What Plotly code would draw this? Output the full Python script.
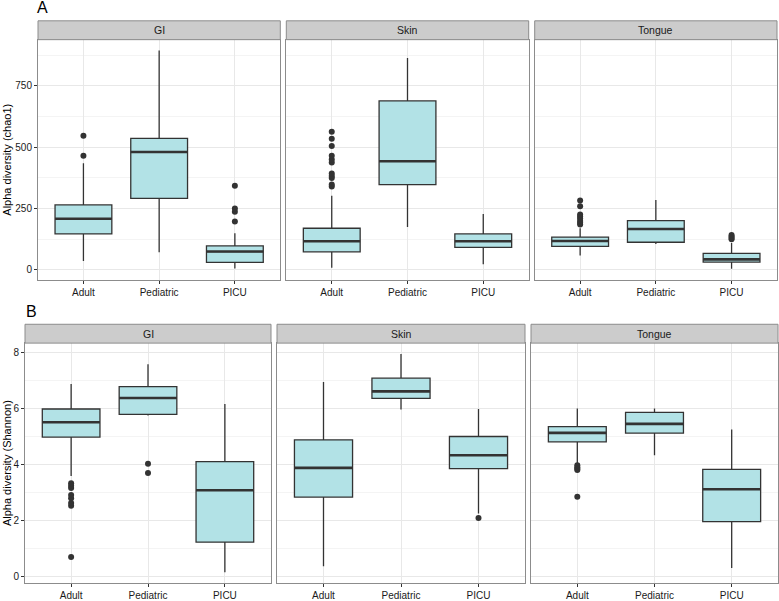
import plotly.graph_objects as go

W, H = 779, 601

facets = ["GI", "Skin", "Tongue"]
groups = ["Adult", "Pediatric", "PICU"]
y_titles = ["Alpha diversity (chao1)", "Alpha diversity (Shannon)"]
panel_tags = ["A", "B"]

# chao1 stats: [facet][group]
chao1_lower = [[37, 72, 6], [9, 175, 23], [59, 106, 5]]
chao1_q1 = [[147, 292, 31], [74, 348, 92], [96, 113, 32]]
chao1_median = [[209, 481, 75], [117, 443, 117], [118, 167, 43]]
chao1_q3 = [[265, 536, 98], [170, 689, 147], [134, 201, 68]]
chao1_upper = [[435, 894, 150], [302, 864, 228], [170, 285, 110]]
chao1_outliers = [
    [[465, 547], [], [198, 237, 250, 343]],
    [[340, 348, 375, 383, 393, 438, 450, 465, 505, 535, 563], [], []],
    [[185, 192, 200, 210, 218, 226, 260, 283], [], [125, 130, 136, 142]],
]
chao1_ticks = [0, 250, 500, 750]

# Shannon stats: [facet][group]
shannon_lower = [[3.59, 5.75, 0.16], [0.37, 5.96, 2.25], [4.00, 4.33, 0.31]]
shannon_q1 = [[4.98, 5.79, 1.23], [2.84, 6.36, 3.85], [4.81, 5.12, 1.96]]
shannon_median = [[5.51, 6.37, 3.08], [3.88, 6.61, 4.33], [5.13, 5.45, 3.12]]
shannon_q3 = [[5.98, 6.78, 4.10], [4.88, 7.08, 5.00], [5.35, 5.86, 3.83]]
shannon_upper = [[6.87, 7.58, 6.16], [6.94, 7.94, 5.98], [6.00, 6.00, 5.25]]
shannon_outliers = [
    [[0.70, 2.53, 2.63, 2.80, 2.91, 3.16, 3.24, 3.33], [3.70, 4.03], []],
    [[], [], [2.09]],
    [[2.85, 3.80, 3.85, 3.90, 3.97], [], []],
]
shannon_ticks = [0, 2, 4, 6, 8]

rows = [
    dict(lower=chao1_lower, q1=chao1_q1, med=chao1_median, q3=chao1_q3,
         upper=chao1_upper, out=chao1_outliers, ticks=chao1_ticks,
         minor=125, rng=[-39.5, 938.5]),
    dict(lower=shannon_lower, q1=shannon_q1, med=shannon_median, q3=shannon_q3,
         upper=shannon_upper, out=shannon_outliers, ticks=shannon_ticks,
         minor=1, rng=[-0.23, 8.33]),
]

# layout geometry (pixels)
col_px = [
    [(38, 280.3), (286.3, 528.7), (534.7, 777)],
    [(25, 271), (277, 525), (531, 778)],
]
row_px = [(40, 282), (346, 588)]
tag_px = [(35, 8), (24, 314)]
strip_h = 19
BOX_W = 0.75

FILL = "#b2e2e6"
DARK = "#333333"
BORDER = "#8c8c8c"
FONT = "Liberation Sans, Arial, sans-serif"

fig = go.Figure()
layout = dict(
    width=W, height=H, margin=dict(l=0, r=0, t=0, b=0),
    paper_bgcolor="white", plot_bgcolor="white", showlegend=False,
    font=dict(family=FONT, color="#1a1a1a"),
)
shapes = []
annotations = []

def px_x(x):
    return x / W

def px_y(y):
    return 1 - y / H

for r, rd in enumerate(rows):
    for c, fac in enumerate(facets):
        k = r * 3 + c + 1
        xn = "x" if k == 1 else f"x{k}"
        yn = "y" if k == 1 else f"y{k}"
        xa = "xaxis" if k == 1 else f"xaxis{k}"
        ya = "yaxis" if k == 1 else f"yaxis{k}"
        x0, x1 = col_px[r][c]
        y0, y1 = row_px[r]
        for g in range(3):
            pos = g + 1
            fig.add_trace(go.Box(
                x=[pos], q1=[rd["q1"][c][g]], median=[rd["med"][c][g]],
                q3=[rd["q3"][c][g]], lowerfence=[rd["lower"][c][g]],
                upperfence=[rd["upper"][c][g]], width=BOX_W,
                fillcolor=FILL, line=dict(color=DARK, width=1.3),
                whiskerwidth=0, boxpoints=False, xaxis=xn, yaxis=yn,
                hoverinfo="skip",
            ))
            fig.add_trace(go.Scatter(
                x=[pos - BOX_W / 2, pos + BOX_W / 2],
                y=[rd["med"][c][g]] * 2, mode="lines",
                line=dict(color=DARK, width=2.6), xaxis=xn, yaxis=yn,
                hoverinfo="skip",
            ))
            outs = rd["out"][c][g]
            if outs:
                fig.add_trace(go.Scatter(
                    x=[pos] * len(outs), y=outs, mode="markers",
                    marker=dict(color=DARK, size=6), xaxis=xn, yaxis=yn,
                    hoverinfo="skip",
                ))
        layout[xa] = dict(
            domain=[px_x(x0), px_x(x1)], anchor=yn, range=[0.4, 3.6],
            tickmode="array", tickvals=[1, 2, 3], ticktext=groups,
            showgrid=True, gridcolor="#e8e8e8", gridwidth=1, zeroline=False,
            showline=True, mirror=True, linecolor=BORDER, linewidth=1,
            ticks="outside", ticklen=3, tickcolor=DARK, tickwidth=1,
            tickfont=dict(family=FONT, size=10, color="#1a1a1a"),
            fixedrange=True,
        )
        layout[ya] = dict(
            domain=[px_y(y1), px_y(y0)], anchor=xn, range=rd["rng"],
            tickmode="array", tickvals=rd["ticks"],
            showticklabels=(c == 0), ticks="outside" if c == 0 else "",
            ticklen=3, tickcolor=DARK, tickwidth=1,
            tickfont=dict(family=FONT, size=10, color="#1a1a1a"),
            showgrid=True, gridcolor="#e8e8e8", gridwidth=1, zeroline=False,
            minor=dict(tick0=0, dtick=rd["minor"], showgrid=True,
                       gridcolor="#f4f4f4", gridwidth=1),
            showline=True, mirror=True, linecolor=BORDER, linewidth=1,
            fixedrange=True,
        )
        # strip
        shapes.append(dict(
            type="rect", xref="paper", yref="paper",
            x0=px_x(x0), x1=px_x(x1), y0=px_y(y0), y1=px_y(y0 - strip_h),
            fillcolor="#cccccc", line=dict(color=BORDER, width=1),
            layer="above",
        ))
        annotations.append(dict(
            text=fac, xref="paper", yref="paper",
            x=px_x((x0 + x1) / 2), y=px_y(y0 - strip_h / 2),
            xanchor="center", yanchor="middle", showarrow=False,
            font=dict(family=FONT, size=10.5, color="#1a1a1a"),
        ))
    # y title
    y0, y1 = row_px[r]
    annotations.append(dict(
        text=y_titles[r], xref="paper", yref="paper",
        x=px_x(7), y=px_y((y0 + y1) / 2), textangle=-90,
        xanchor="center", yanchor="middle", showarrow=False,
        font=dict(family=FONT, size=11, color="#000000"),
    ))
    # tag
    tx, ty = tag_px[r]
    annotations.append(dict(
        text=panel_tags[r], xref="paper", yref="paper",
        x=px_x(tx), y=px_y(ty),
        xanchor="left", yanchor="middle", showarrow=False,
        font=dict(family=FONT, size=16, color="#000000"),
    ))

layout["shapes"] = shapes
layout["annotations"] = annotations
fig.update_layout(**layout)
fig.write_html(
    "out.html",
    config={"displayModeBar": False},
    post_script="document.body.style.margin='0';document.body.style.overflow='hidden';",
)
